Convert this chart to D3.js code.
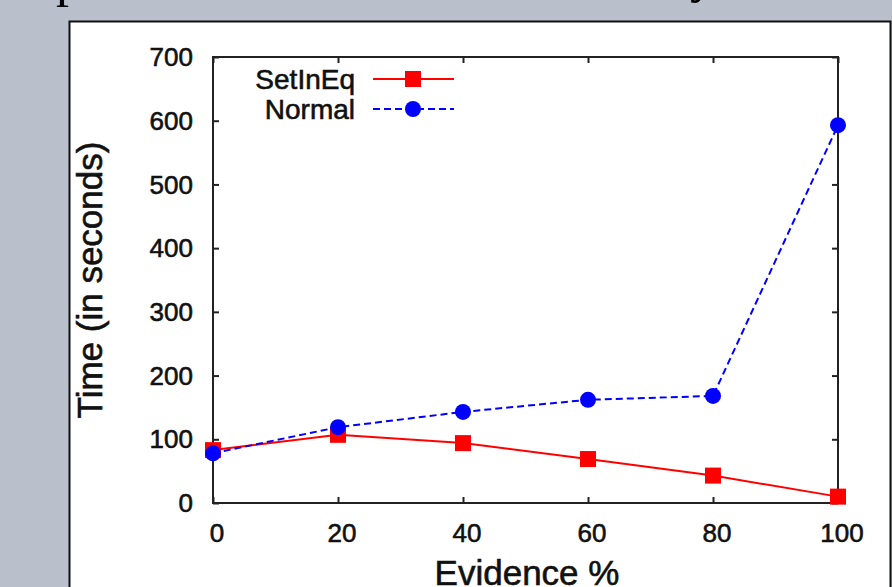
<!DOCTYPE html>
<html>
<head>
<meta charset="utf-8">
<script src="https://cdn.jsdelivr.net/npm/d3@7"></script>
<style>
  html, body { margin: 0; padding: 0; background: #b9c0cc; }
  svg { display: block; }
  text { font-family: "Liberation Sans", Arial, sans-serif; fill: #111; }
  text.lbl { stroke: #111; stroke-width: 0.6px; }
</style>
</head>
<body>
<svg id="chart" width="892" height="587"></svg>
<script>
// ---- data ----
const evidence = [0, 20, 40, 60, 80, 100];
const setInEq = [83, 107, 94, 69, 43, 10];
const normal = [78, 119, 143, 162, 168, 593];
const seriesNames = ["SetInEq", "Normal"];
const xTicks = [0, 20, 40, 60, 80, 100];
const yTicks = [0, 100, 200, 300, 400, 500, 600, 700];
const xTitle = "Evidence %";
const yTitle = "Time (in seconds)";

(function () {
const svg = d3.select("#chart");

// slide background pieces
svg.append("rect").attr("x", 0).attr("y", 0).attr("width", 892).attr("height", 587).attr("fill", "#b9c0cc");
// cut-off slide title glyph descenders
svg.append("text").attr("x", 56).attr("y", -4)
  .style("font-family", "'Liberation Serif', 'DejaVu Serif', serif").style("font-size", "52px").style("fill", "#000").text("p");
svg.append("text").attr("x", 690).attr("y", -8)
  .style("font-family", "'Liberation Serif', 'DejaVu Serif', serif").style("font-size", "52px").style("fill", "#000").text("y");

// white panel
svg.append("rect").attr("x", 69.5).attr("y", 21.5).attr("width", 821).attr("height", 580)
  .attr("fill", "#fff").attr("stroke", "#111").attr("stroke-width", 2);

const pL = 213, pR = 838, pT = 57, pB = 503;
const x = d3.scaleLinear().domain([0, 100]).range([pL, pR]);
const y = d3.scaleLinear().domain([0, 700]).range([pB, pT]);

const axisColor = "#222";
const g = svg.append("g");

// frame
g.append("rect").attr("x", pL).attr("y", pT).attr("width", pR - pL).attr("height", pB - pT)
  .attr("fill", "none").attr("stroke", axisColor).attr("stroke-width", 2);

// ticks (inward, mirrored)
const tl = 6;
const xAxisB = d3.axisBottom(x).tickValues(xTicks).tickSize(-tl).tickFormat("");
const xAxisT = d3.axisTop(x).tickValues(xTicks).tickSize(-tl).tickFormat("");
const yAxisL = d3.axisLeft(y).tickValues(yTicks).tickSize(-tl).tickFormat("");
const yAxisR = d3.axisRight(y).tickValues(yTicks).tickSize(-tl).tickFormat("");
[[xAxisB, `translate(0,${pB})`], [xAxisT, `translate(0,${pT})`],
 [yAxisL, `translate(${pL},0)`], [yAxisR, `translate(${pR},0)`]].forEach(([ax, tr]) => {
  const a = g.append("g").attr("transform", tr).call(ax);
  a.select(".domain").remove();
  a.selectAll("line").attr("stroke", axisColor).attr("stroke-width", 2);
});

// tick labels
g.selectAll(".xl").data(xTicks).enter().append("text").attr("class", "lbl")
  .attr("x", d => x(d) + 4).attr("y", 542)
  .attr("text-anchor", "middle").style("font-size", "26px").text(d => d);
g.selectAll(".yl").data(yTicks).enter().append("text").attr("class", "lbl")
  .attr("x", 193).attr("y", d => y(d)).attr("dy", "0.35em")
  .attr("text-anchor", "end").style("font-size", "26px").text(d => d);

// axis titles
svg.append("text").attr("class", "lbl").attr("x", 527).attr("y", 585).attr("text-anchor", "middle")
  .style("font-size", "35px").text(xTitle);
svg.append("text").attr("class", "lbl").attr("transform", `translate(102,${(pT + pB) / 2}) rotate(-90)`)
  .attr("text-anchor", "middle").style("font-size", "35px").text(yTitle);

// lines
const line = d3.line().x((d, i) => x(evidence[i])).y(d => y(d));
g.append("path").datum(setInEq).attr("d", line).attr("fill", "none")
  .attr("stroke", "#ff0000").attr("stroke-width", 2);
g.append("path").datum(normal).attr("d", line).attr("fill", "none")
  .attr("stroke", "#0000ff").attr("stroke-width", 2).attr("stroke-dasharray", "7,4");

// markers
const ms = 16;
g.selectAll(".sq").data(setInEq).enter().append("rect")
  .attr("x", (d, i) => x(evidence[i]) - ms / 2).attr("y", d => y(d) - ms / 2)
  .attr("width", ms).attr("height", ms).attr("fill", "#ff0000");
g.selectAll(".ci").data(normal).enter().append("circle")
  .attr("cx", (d, i) => x(evidence[i])).attr("cy", d => y(d)).attr("r", 8).attr("fill", "#0000ff");

// legend
const leg = [
  { name: seriesNames[0], color: "#ff0000", dash: null, y: 79, marker: "square" },
  { name: seriesNames[1], color: "#0000ff", dash: "7,4", y: 109, marker: "circle" }
];
leg.forEach(l => {
  svg.append("text").attr("class", "lbl").attr("x", 355).attr("y", l.y).attr("dy", "0.35em")
    .attr("text-anchor", "end").style("font-size", "28px").text(l.name);
  const ln = svg.append("line").attr("x1", 373).attr("x2", 454).attr("y1", l.y).attr("y2", l.y)
    .attr("stroke", l.color).attr("stroke-width", 2);
  if (l.dash) ln.attr("stroke-dasharray", l.dash);
  if (l.marker === "square") {
    svg.append("rect").attr("x", 413 - ms / 2).attr("y", l.y - ms / 2).attr("width", ms).attr("height", ms).attr("fill", l.color);
  } else {
    svg.append("circle").attr("cx", 413).attr("cy", l.y).attr("r", 8).attr("fill", l.color);
  }
});
})();
</script>
</body>
</html>
